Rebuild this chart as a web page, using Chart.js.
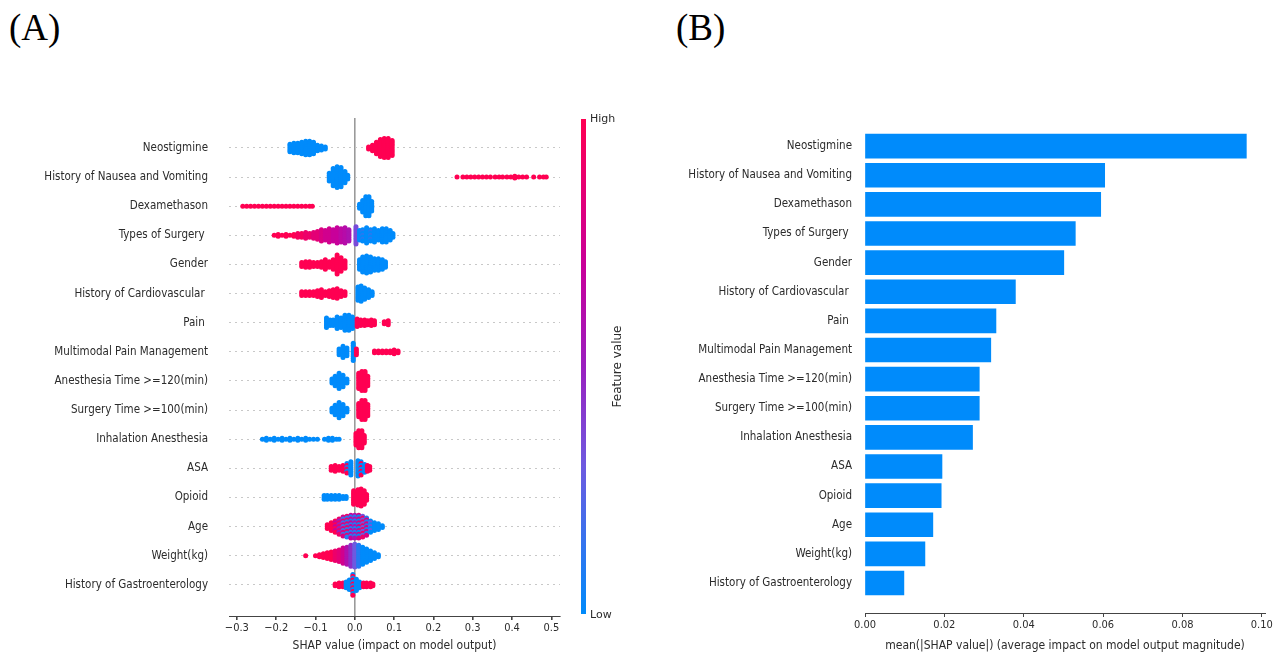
<!DOCTYPE html>
<html>
<head>
<meta charset="utf-8">
<script src="https://cdn.jsdelivr.net/npm/chart.js@4.4.1/dist/chart.umd.min.js"></script>
<style>
  body { margin: 0; background: #fff; width: 1279px; height: 653px; position: relative; overflow: hidden; }
  .panel-label { position: absolute; font-family: 'Liberation Serif', 'Times New Roman', serif; font-size: 37px; line-height: 37px; color: #000; }
  #wrapA { position: absolute; left: 0; top: 0; width: 640px; height: 653px; }
  #wrapB { position: absolute; left: 640px; top: 0; width: 639px; height: 653px; }
</style>
</head>
<body>
<div class="panel-label" style="left:9px; top:9px;">(A)</div>
<div class="panel-label" style="left:676px; top:9px;">(B)</div>
<div id="wrapA"><canvas id="shapSummary" width="640" height="653"></canvas></div>
<div id="wrapB"><canvas id="shapBar" width="639" height="653"></canvas></div>
<script>
// feature names, top to bottom
const features = [
    'Neostigmine', 'History of Nausea and Vomiting', 'Dexamethason', 'Types of Surgery ',
    'Gender', 'History of Cardiovascular ', 'Pain ', 'Multimodal Pain Management',
    'Anesthesia Time >=120(min)', 'Surgery Time >=100(min)', 'Inhalation Anesthesia', 'ASA',
    'Opioid', 'Age', 'Weight(kg)', 'History of Gastroenterology'
];

// mean(|SHAP value|) per feature (panel B)
const meanAbsShap = [0.0961, 0.0604, 0.0594, 0.0530, 0.0501, 0.0379, 0.0330, 0.0317,
    0.0288, 0.0288, 0.0271, 0.0194, 0.0192, 0.0171, 0.0151, 0.0098];

const xTicksA = [-0.3, -0.2, -0.1, 0.0, 0.1, 0.2, 0.3, 0.4, 0.5];
const xTicksB = [0.00, 0.02, 0.04, 0.06, 0.08, 0.10];

// beeswarm columns: [SHAP value, dots stacked, feature value 0..1, (alternate feature value)]
const neostigmineSwarm = [
    [-0.165, 5, 0], [-0.155, 6, 0], [-0.145, 6, 0], [-0.135, 7, 0], [-0.125, 8, 0], [-0.115, 8, 0],
    [-0.105, 7, 0], [-0.095, 4, 0], [-0.085, 3, 0], [-0.075, 2, 0],
    [0.035, 2, 1], [0.045, 4, 1], [0.055, 7, 1], [0.065, 10, 1], [0.075, 11, 1], [0.085, 11, 1], [0.095, 9, 1]
];
const nauseaSwarm = [
    [-0.065, 5, 0], [-0.055, 10, 0], [-0.045, 12, 0], [-0.035, 11, 0], [-0.025, 7, 0], [-0.018, 3, 0],
    [0.26, 1, 1], [0.275, 1, 1], [0.285, 1, 1], [0.295, 1, 1], [0.305, 1, 1], [0.315, 1, 1], [0.325, 1, 1],
    [0.335, 1, 1], [0.345, 1, 1], [0.357, 1, 1], [0.367, 1, 1], [0.376, 1, 1], [0.387, 1, 1], [0.397, 1, 1],
    [0.407, 2, 1], [0.417, 1, 1], [0.427, 1, 1], [0.437, 1, 1], [0.455, 1, 1], [0.47, 1, 1], [0.48, 1, 1], [0.487, 1, 1]
];
const dexamethasonSwarm = [
    [-0.285, 1, 1], [-0.275, 1, 1], [-0.265, 1, 1], [-0.255, 1, 1], [-0.245, 1, 1], [-0.235, 1, 1],
    [-0.225, 1, 1], [-0.215, 1, 1], [-0.205, 1, 1], [-0.195, 1, 1], [-0.185, 1, 1], [-0.175, 1, 1],
    [-0.165, 1, 1], [-0.155, 1, 1], [-0.145, 1, 1], [-0.135, 1, 1], [-0.125, 1, 1], [-0.115, 1, 1], [-0.108, 1, 1],
    [0.012, 3, 0], [0.02, 7, 0], [0.028, 11, 0], [0.036, 11, 0], [0.043, 6, 0]
];
const surgeryTypeSwarm = [
    [-0.205, 1, 1], [-0.195, 2, 1], [-0.185, 1, 1], [-0.175, 2, 1], [-0.165, 1, 1], [-0.155, 2, 1],
    [-0.145, 3, 0.95], [-0.135, 3, 0.95], [-0.125, 4, 0.9], [-0.115, 3, 0.9], [-0.105, 4, 0.85],
    [-0.095, 5, 0.85], [-0.085, 7, 0.8], [-0.075, 6, 0.75], [-0.065, 8, 0.75], [-0.055, 7, 0.7],
    [-0.045, 9, 0.7], [-0.035, 8, 0.65], [-0.025, 9, 0.62], [-0.015, 7, 0.58],
    [0.003, 10, 0.35],
    [0.012, 6, 0], [0.02, 7, 0, 0.1], [0.03, 9, 0], [0.04, 7, 0, 0.1], [0.05, 8, 0], [0.06, 6, 0],
    [0.07, 8, 0], [0.08, 8, 0], [0.09, 6, 0], [0.097, 3, 0]
];
const genderSwarm = [
    [-0.135, 3, 1], [-0.125, 4, 1], [-0.115, 4, 1], [-0.105, 3, 1], [-0.095, 3, 1], [-0.085, 4, 1],
    [-0.075, 6, 1], [-0.065, 4, 1], [-0.055, 6, 1], [-0.045, 11, 1], [-0.035, 8, 1], [-0.025, 5, 1],
    [0.012, 6, 0], [0.02, 9, 0], [0.03, 10, 0], [0.04, 9, 0], [0.05, 7, 0], [0.06, 7, 0], [0.07, 6, 0], [0.078, 4, 0]
];
const cardioSwarm = [
    [-0.135, 3, 1], [-0.125, 3, 1], [-0.115, 3, 1], [-0.105, 3, 1], [-0.095, 4, 1], [-0.085, 5, 1],
    [-0.075, 3, 1], [-0.065, 4, 1], [-0.055, 5, 1], [-0.045, 6, 1], [-0.035, 4, 1], [-0.025, 3, 1],
    [0.008, 8, 0], [0.016, 9, 0], [0.025, 7, 0], [0.035, 5, 0], [0.044, 3, 0]
];
const painSwarm = [
    [-0.072, 6, 0], [-0.063, 4, 0], [-0.055, 4, 0], [-0.045, 7, 0], [-0.035, 6, 0], [-0.025, 9, 0],
    [-0.015, 9, 0], [-0.006, 7, 0],
    [0.006, 5, 1], [0.015, 4, 1], [0.025, 4, 1], [0.033, 3, 1], [0.042, 4, 1], [0.05, 3, 1],
    [0.075, 2, 1], [0.085, 3, 1]
];
const multimodalSwarm = [
    [-0.04, 4, 0], [-0.03, 7, 0], [-0.02, 5, 0], [-0.004, 10, 0], [0.004, 4, 1],
    [0.05, 2, 1], [0.06, 2, 1], [0.07, 2, 1], [0.08, 2, 1], [0.09, 2, 1], [0.1, 3, 1], [0.11, 2, 1]
];
const anesthesiaSwarm = [
    [-0.058, 3, 0], [-0.05, 6, 0], [-0.04, 9, 0], [-0.03, 7, 0], [-0.02, 3, 0],
    [0.01, 9, 1], [0.018, 11, 1], [0.026, 11, 1], [0.033, 6, 1]
];
const surgeryTimeSwarm = [
    [-0.058, 3, 0], [-0.05, 6, 0], [-0.04, 9, 0], [-0.03, 7, 0], [-0.02, 3, 0],
    [0.01, 8, 1], [0.018, 11, 1], [0.026, 11, 1], [0.033, 7, 1]
];
const inhalationSwarm = [
    [-0.235, 1, 0], [-0.225, 2, 0], [-0.215, 1, 0], [-0.205, 2, 0], [-0.195, 1, 0], [-0.185, 2, 0],
    [-0.175, 1, 0], [-0.165, 2, 0], [-0.155, 1, 0], [-0.145, 2, 0], [-0.135, 1, 0], [-0.125, 2, 0],
    [-0.115, 1, 0], [-0.105, 1, 0], [-0.095, 1, 0],
    [-0.077, 1, 0], [-0.067, 2, 0], [-0.057, 2, 0], [-0.047, 1, 0], [-0.04, 1, 0],
    [0.003, 7, 1], [0.01, 10, 1], [0.018, 10, 1], [0.024, 5, 1]
];
const asaSwarm = [
    [-0.06, 3, 1], [-0.05, 4, 1], [-0.04, 3, 1], [-0.03, 4, 1], [-0.02, 6, 0, 1], [-0.01, 8, 0],
    [0.008, 9, 0], [0.016, 8, 0, 1], [0.025, 5, 0], [0.032, 4, 1], [0.038, 3, 1]
];
const opioidSwarm = [
    [-0.078, 3, 0], [-0.07, 3, 0], [-0.06, 3, 0], [-0.05, 3, 0], [-0.04, 3, 0], [-0.03, 2, 0], [-0.022, 2, 0],
    [-0.003, 8, 1], [0.008, 9, 1], [0.016, 10, 1], [0.024, 8, 1], [0.03, 4, 1]
];
const ageSwarm = [
    [-0.07, 3, 1], [-0.06, 5, 1], [-0.05, 7, 1, 0.7], [-0.04, 9, 0.9, 0.5], [-0.03, 11, 0.8, 0.2],
    [-0.02, 12, 0.9, 0.1], [-0.01, 13, 0.7, 0.1], [0.0, 13, 0.6, 0.1], [0.01, 13, 0.8, 0],
    [0.02, 12, 0.3, 0.9], [0.03, 10, 0.1, 0.8], [0.04, 7, 0, 0.3], [0.05, 5, 0], [0.06, 4, 0], [0.07, 2, 0]
];
const weightSwarm = [
    [-0.125, 1, 1], [-0.1, 1, 1], [-0.09, 2, 1], [-0.08, 3, 1], [-0.07, 4, 1], [-0.06, 5, 1],
    [-0.05, 6, 0.9], [-0.04, 7, 0.85], [-0.03, 9, 0.75], [-0.02, 10, 0.6], [-0.01, 12, 0.45],
    [0.0, 13, 0.3], [0.01, 12, 0.1], [0.02, 10, 0], [0.03, 8, 0], [0.04, 6, 0], [0.05, 4, 0], [0.06, 2, 0]
];
const gastroSwarm = [
    [-0.05, 2, 1], [-0.04, 3, 1], [-0.03, 3, 1], [-0.022, 4, 0], [-0.014, 6, 0], [-0.005, 12, 0, 1],
    [0.004, 7, 0], [0.012, 4, 0], [0.022, 3, 1], [0.03, 3, 1], [0.04, 3, 1], [0.046, 2, 1]
];

const swarmRows = [neostigmineSwarm, nauseaSwarm, dexamethasonSwarm, surgeryTypeSwarm, genderSwarm,
    cardioSwarm, painSwarm, multimodalSwarm, anesthesiaSwarm, surgeryTimeSwarm, inhalationSwarm,
    asaSwarm, opioidSwarm, ageSwarm, weightSwarm, gastroSwarm];

// SHAP red-blue colormap (low -> high)
const cmapStops = [
    [0.0, [0, 139, 251]],
    [0.3, [110, 90, 224]],
    [0.5, [154, 31, 191]],
    [0.7, [200, 0, 154]],
    [1.0, [255, 0, 82]]
];

function featureColor(t) {
    for (let i = 1; i < cmapStops.length; i++) {
        if (t <= cmapStops[i][0]) {
            const [t0, c0] = cmapStops[i - 1];
            const [t1, c1] = cmapStops[i];
            const f = (t - t0) / (t1 - t0);
            const c = c0.map((v, k) => Math.round(v + (c1[k] - v) * f));
            return `rgb(${c[0]}, ${c[1]}, ${c[2]})`;
        }
    }
    return 'rgb(255, 0, 82)';
}

// stack each column's dots around its row
const rowPx = 29.1;
const dotGapPx = 1.9;
const swarmPoints = [];
const swarmColors = [];
swarmRows.forEach((cols, row) => {
    cols.forEach(([x, n, c1, c2]) => {
        for (let k = 0; k < n; k++) {
            const offset = (k - (n - 1) / 2) * dotGapPx / rowPx;
            swarmPoints.push({ x: x, y: row + offset });
            swarmColors.push(featureColor(c2 !== undefined && k % 2 ? c2 : c1));
        }
    });
});

const labelFont = { family: "'DejaVu Sans Condensed', 'DejaVu Sans', sans-serif", size: 11.5 };
const titleFont = { family: "'DejaVu Sans Condensed', 'DejaVu Sans', sans-serif", size: 12 };
const tickFont = { family: "'DejaVu Sans Condensed', 'DejaVu Sans', sans-serif", size: 11 };
const textColor = '#2b2b2b';

// colorbar and its labels next to the beeswarm
const colorbarPlugin = {
    id: 'colorbar',
    afterDraw(chart) {
        const ctx = chart.ctx;
        const top = chart.chartArea.top + 1;
        const bottom = chart.chartArea.bottom - 2;
        const grad = ctx.createLinearGradient(0, bottom, 0, top);
        cmapStops.forEach(([t, c]) => grad.addColorStop(t, `rgb(${c[0]}, ${c[1]}, ${c[2]})`));
        ctx.save();
        ctx.fillStyle = grad;
        ctx.fillRect(581, top, 5, bottom - top);
        ctx.fillStyle = textColor;
        ctx.font = "11px 'DejaVu Sans', sans-serif";
        ctx.textBaseline = 'middle';
        ctx.textAlign = 'left';
        ctx.fillText('High', 590, top);
        ctx.fillText('Low', 590, bottom + 1);
        ctx.translate(618, (top + bottom) / 2);
        ctx.rotate(-Math.PI / 2);
        ctx.textAlign = 'center';
        ctx.font = "12px 'DejaVu Sans', sans-serif";
        ctx.fillText('Feature value', 0, 0);
        ctx.restore();
    }
};

new Chart(document.getElementById('shapSummary').getContext('2d'), {
    type: 'scatter',
    data: {
        datasets: [{
            data: swarmPoints,
            pointBackgroundColor: swarmColors,
            pointBorderWidth: 0,
            pointRadius: 2.5
        }]
    },
    options: {
        responsive: false,
        animation: false,
        layout: { padding: { top: 118, left: 0, right: 80, bottom: 0 } },
        plugins: { legend: { display: false }, tooltip: { enabled: false } },
        scales: {
            x: {
                type: 'linear',
                min: -0.32,
                max: 0.522,
                afterBuildTicks: axis => { axis.ticks = xTicksA.map(v => ({ value: v })); },
                afterFit: axis => { axis.height = 37; },
                ticks: {
                    font: tickFont,
                    color: textColor,
                    padding: 2,
                    maxRotation: 0,
                    callback: v => (v < 0 ? '\u2212' : '') + Math.abs(v).toFixed(1)
                },
                grid: {
                    color: ctx => ctx.tick && Math.abs(ctx.tick.value) < 1e-9 ? '#9a9a9a' : 'rgba(0,0,0,0)',
                    lineWidth: 1.6,
                    tickColor: '#444',
                    tickLength: 4
                },
                border: { display: true, color: '#444', width: 1 },
                title: {
                    display: true,
                    text: 'SHAP value (impact on model output)',
                    font: titleFont,
                    color: textColor,
                    padding: { top: 0, bottom: 0 }
                }
            },
            y: {
                type: 'linear',
                reverse: true,
                min: -1.03,
                max: 16.07,
                afterBuildTicks: axis => { axis.ticks = features.map((f, i) => ({ value: i })); },
                afterFit: axis => { axis.width = 229; },
                ticks: {
                    font: labelFont,
                    color: textColor,
                    padding: 21,
                    callback: v => features[v]
                },
                grid: { color: '#c8c8c8', lineWidth: 1, drawTicks: false },
                border: { display: false, dash: [2, 4] }
            }
        }
    },
    plugins: [colorbarPlugin]
});

new Chart(document.getElementById('shapBar').getContext('2d'), {
    type: 'bar',
    data: {
        datasets: [{
            data: meanAbsShap.map((v, i) => ({ x: v, y: i })),
            backgroundColor: '#008bfb',
            borderWidth: 0,
            barThickness: 24
        }]
    },
    options: {
        indexAxis: 'y',
        responsive: false,
        animation: false,
        layout: { padding: { top: 117, left: 0, right: 14, bottom: 0 } },
        plugins: { legend: { display: false }, tooltip: { enabled: false } },
        scales: {
            x: {
                type: 'linear',
                min: 0,
                max: 0.1008,
                afterBuildTicks: axis => { axis.ticks = xTicksB.map(v => ({ value: v })); },
                afterFit: axis => { axis.height = 40; },
                ticks: {
                    font: tickFont,
                    color: textColor,
                    padding: 2,
                    maxRotation: 0,
                    callback: v => v.toFixed(2)
                },
                grid: { drawOnChartArea: false, tickColor: '#444', tickLength: 4 },
                border: { display: true, color: '#444', width: 1 },
                title: {
                    display: true,
                    text: 'mean(|SHAP value|) (average impact on model output magnitude)',
                    font: titleFont,
                    color: textColor,
                    padding: { top: 0, bottom: 0 }
                }
            },
            y: {
                type: 'linear',
                reverse: true,
                offset: false,
                min: -1.0,
                max: 16.03,
                afterBuildTicks: axis => { axis.ticks = features.map((f, i) => ({ value: i })); },
                afterFit: axis => { axis.width = 225; },
                ticks: {
                    font: labelFont,
                    color: textColor,
                    padding: 5,
                    callback: v => features[v]
                },
                grid: { display: false, offset: false },
                border: { display: false }
            }
        }
    }
});
</script>
</body>
</html>
